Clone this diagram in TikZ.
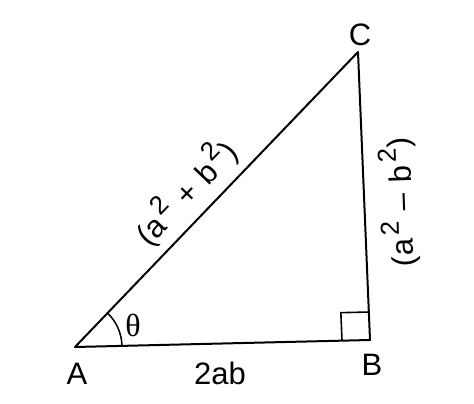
\documentclass[tikz,border=0pt]{standalone}
\usepackage{fontspec}
\setmainfont{Liberation Sans}
\newfontfamily\thetafont{Liberation Serif}
\usetikzlibrary{calc}
\newcommand{\sqd}{\kern3pt\raisebox{0.45em}{\fontsize{26}{26}\selectfont 2}}
\begin{document}
\begin{tikzpicture}[x=1pt,y=1pt,
  edge/.style={line width=2pt, line cap=round, line join=round},
  lbl/.style={font=\fontsize{31}{33}\selectfont, inner sep=0pt}]
\useasboundingbox (0,0) rectangle (474,404);
\coordinate (A) at (75,57);
\coordinate (B) at (370,64);
\coordinate (C) at (358,352);
\draw[edge] (A) -- (B) -- (C) -- cycle;
% right angle box
\coordinate (P) at ($(B)!28pt!(A)$);
\coordinate (Q) at ($(B)!28pt!(C)$);
\draw[line width=1.6pt] (P) -- ($(P)+(Q)-(B)$) -- (Q);
% angle arc
\draw[line width=1.5pt] ($(A)+(1.4:47)$) arc[start angle=1.4, end angle=46.2, radius=47];
\node[lbl] (la) at (77,30) {A};
\node[lbl] (lb) at (372,39) {B};
\node[lbl] (lc) at (360,369) {C};
\node[lbl] (lab) at (220,31) {2ab};
\node[lbl, font=\fontsize{32}{32}\thetafont] (lt) at (133,79) {θ};
\node[lbl, rotate=46.2] (hyp) at (185,212) {(a\sqd\hspace{0.35em}+\hspace{0.35em}b\sqd)};
\node[lbl, rotate=92] (ver) at (399,202) {(a\sqd\hspace{0.35em}--\hspace{0.35em}b\sqd)};
\end{tikzpicture}
\end{document}
